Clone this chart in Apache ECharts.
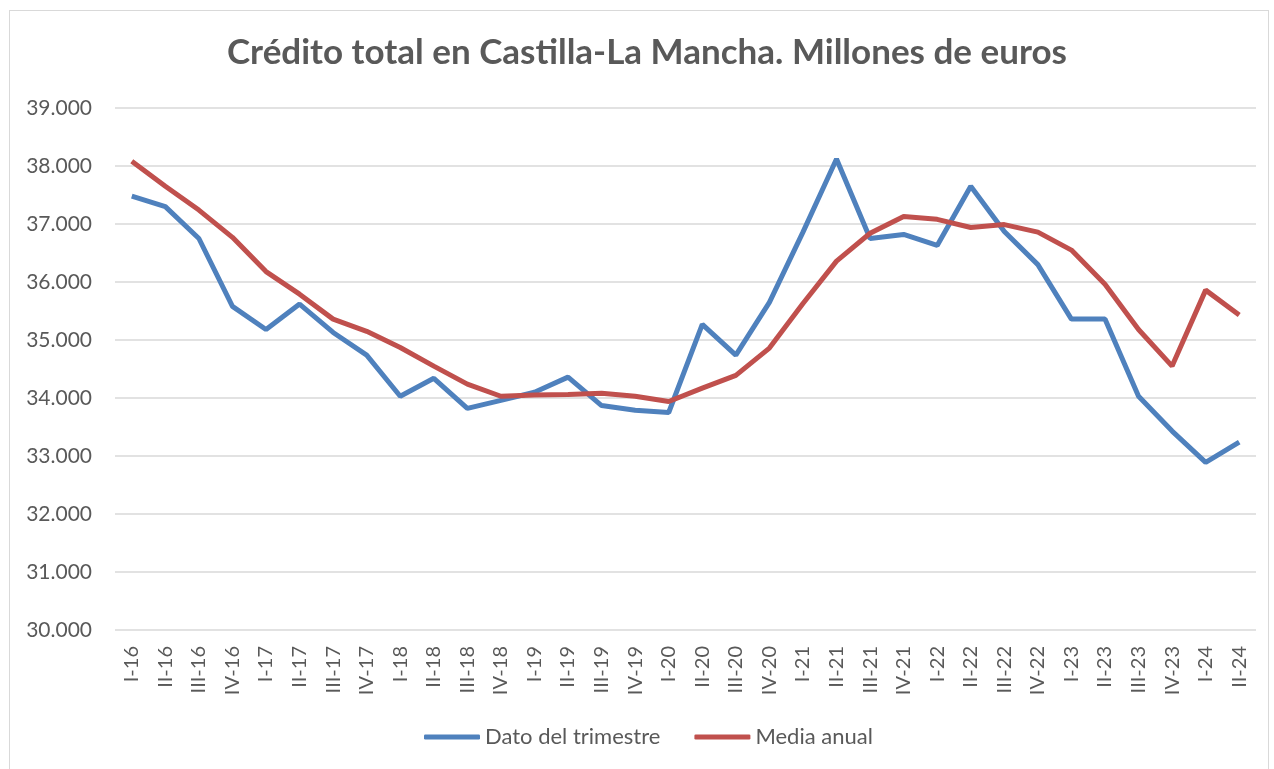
<!DOCTYPE html>
<html>
<head>
<meta charset="utf-8">
<script src="https://cdn.jsdelivr.net/npm/echarts@6/dist/echarts.min.js"></script>
<style>
  body { margin: 0; background: #fff; }
  #frame {
    position: absolute; left: 9px; top: 10px; width: 1260px; height: 800px;
    border: 1px solid #d9d9d9; box-sizing: border-box;
  }
  #chart { position: absolute; left: 0; top: 0; width: 1274px; height: 769px; }
</style>
</head>
<body>
<div id="frame"></div>
<div id="chart"></div>
<script>
  // trimestres
  var quarters = ['I-16', 'II-16', 'III-16', 'IV-16', 'I-17', 'II-17', 'III-17', 'IV-17',
    'I-18', 'II-18', 'III-18', 'IV-18', 'I-19', 'II-19', 'III-19', 'IV-19',
    'I-20', 'II-20', 'III-20', 'IV-20', 'I-21', 'II-21', 'III-21', 'IV-21',
    'I-22', 'II-22', 'III-22', 'IV-22', 'I-23', 'II-23', 'III-23', 'IV-23',
    'I-24', 'II-24']
  var datoTrimestre = [37480, 37300, 36750, 35580, 35180, 35620, 35130, 34740,
    34030, 34340, 33820, 33960, 34100, 34360, 33870, 33790,
    33750, 35270, 34740, 35650, 36860, 38120, 36750, 36820,
    36630, 37650, 36870, 36300, 35360, 35360, 34030, 33430,
    32890, 33240]
  var mediaAnual = [38080, 37650, 37240, 36770, 36180, 35790, 35360, 35150,
    34870, 34550, 34240, 34030, 34050, 34060, 34080, 34030,
    33940, 34170, 34390, 34860, 35630, 36360, 36840, 37130,
    37080, 36940, 36990, 36860, 36550, 35960, 35180, 34550,
    35860, 35430]
  var seriesNames = ['Dato del trimestre', 'Media anual']
  var titleText = 'Crédito total en Castilla-La Mancha. Millones de euros'

  var font = 'Lato, "Open Sans", sans-serif'
  var chart = echarts.init(document.getElementById('chart'))
  chart.setOption({
    animation: false,
    color: ['#4f81bd', '#c0504d'],
    title: {
      text: titleText,
      left: 222,
      top: 30,
      textStyle: {fontFamily: font, fontSize: 35, fontWeight: 'bold', color: '#595959'}
    },
    legend: {
      data: seriesNames,
      icon: 'roundRect',
      top: 721,
      left: 419,
      itemWidth: 56,
      itemHeight: 5,
      itemGap: 34,
      textStyle: {fontFamily: font, fontSize: 22, color: '#595959'}
    },
    grid: {left: 115, right: 18, top: 108, bottom: 139},
    xAxis: {
      type: 'category',
      data: quarters,
      boundaryGap: true,
      axisLine: {show: false},
      axisTick: {show: false},
      axisLabel: {rotate: 90, margin: 16, interval: 0, fontFamily: font, fontSize: 20, color: '#595959'}
    },
    yAxis: {
      type: 'value',
      min: 30000,
      max: 39000,
      interval: 1000,
      axisLine: {show: false},
      axisTick: {show: false},
      splitLine: {lineStyle: {color: '#d9d9d9', width: 1.5}},
      axisLabel: {
        margin: 23, fontFamily: font, fontSize: 21, color: '#595959',
        formatter: function (v) { return (v / 1000).toFixed(3) }
      }
    },
    series: [
      {name: seriesNames[0], type: 'line', data: datoTrimestre, symbol: 'none', lineStyle: {width: 5}},
      {name: seriesNames[1], type: 'line', data: mediaAnual, symbol: 'none', lineStyle: {width: 5}}
    ]
  })
</script>
</body>
</html>
